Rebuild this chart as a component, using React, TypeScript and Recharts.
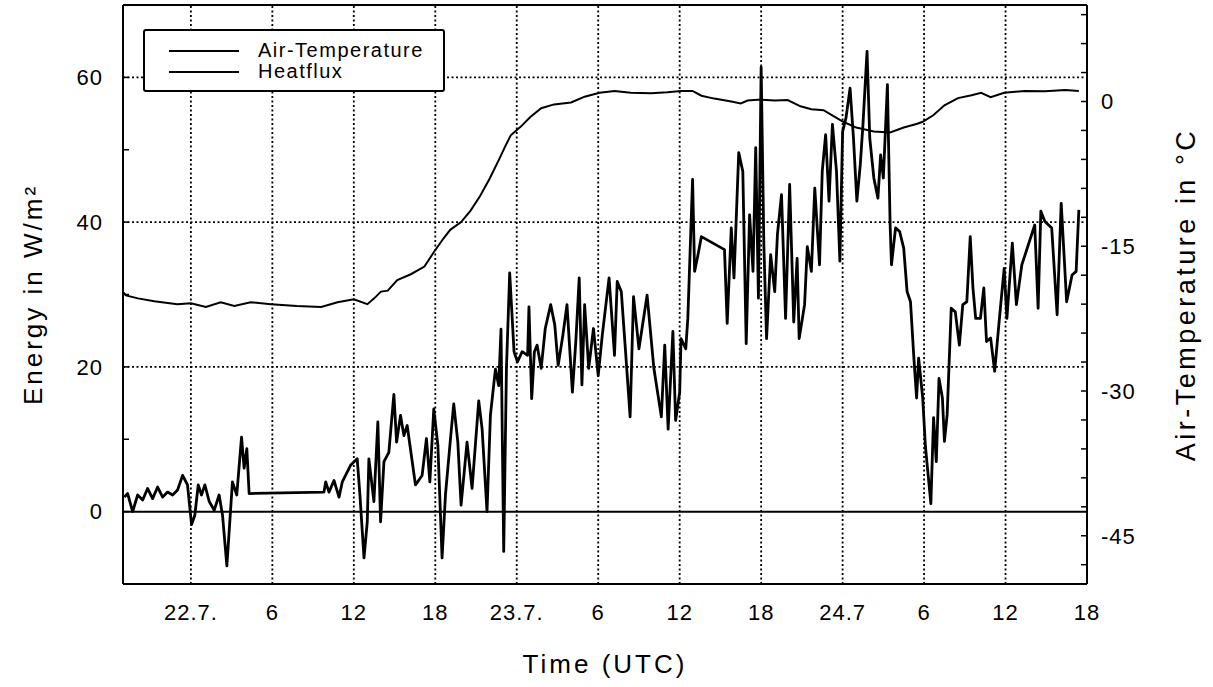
import { LineChart, Line, XAxis, YAxis, ReferenceLine } from 'recharts'

const FONT = '"Liberation Sans", Arial, Helvetica, sans-serif'

// hours since 22.7. 00 UTC
const hourTicks = [0, 6, 12, 18, 24, 30, 36, 42, 48, 54, 60, 66]
const hourLabels = ['22.7.', '6', '12', '18', '23.7.', '6', '12', '18', '24.7', '6', '12', '18']
const gridHours = [0, 6, 12, 18, 24, 30, 36, 42, 48, 54, 60]

const energyTicks = [-10, 0, 10, 20, 30, 40, 50, 60, 70]
const energyLabels = [0, 20, 40, 60]
const tempTicks = [-48, -45, -42, -39, -36, -33, -30, -27, -24, -21, -18, -15, -12, -9, -6, -3, 0, 3, 6, 9]
const tempLabels = [-45, -30, -15, 0]

// Heatflux (W/m2)
const heatHours = [
  -4.9, -4.66, -4.29, -3.92, -3.55, -3.19, -2.82, -2.45, -2.08, -1.72, -1.35, -0.98, -0.61, -0.25,
  0.05, 0.29, 0.54, 0.78, 1.03, 1.35, 1.72, 2.08, 2.33, 2.65, 3.06, 3.38, 3.73, 3.92, 4.12, 4.29,
  9.8, 9.93, 10.17, 10.54, 10.91, 11.15, 11.76, 12.25, 12.45, 12.75, 12.99, 13.11, 13.48, 13.77,
  13.97, 14.22, 14.58, 14.95, 15.15, 15.44, 15.69, 15.93, 16.54, 17.03, 17.35, 17.6, 17.89, 18.19,
  18.5, 18.75, 19.12, 19.36, 19.66, 19.9, 20.34, 20.71, 21.2, 21.45, 21.81, 22.06, 22.43, 22.67,
  22.84, 23.04, 23.24, 23.48, 23.8, 24.05, 24.4, 24.8, 24.9, 25.1, 25.3, 25.5, 25.8, 26.1, 26.5,
  26.8, 27.05, 27.4, 27.7, 28.1, 28.35, 28.6, 28.8, 29.0, 29.3, 29.65, 30.0, 30.3, 30.8, 31.2,
  31.4, 31.7, 32.0, 32.35, 32.6, 33.0, 33.6, 34.1, 34.65, 34.9, 35.15, 35.5, 35.7, 36.0, 36.1,
  36.45, 36.6, 36.95, 37.1, 37.3, 37.6, 39.3, 39.5, 39.8, 40.0, 40.35, 40.65, 40.9, 41.15, 41.4,
  41.6, 41.8, 42.0, 42.2, 42.4, 42.7, 43.0, 43.2, 43.5, 43.8, 44.1, 44.4, 44.65, 44.8, 45.2, 45.4,
  45.7, 45.95, 46.3, 46.5, 46.75, 47.0, 47.25, 47.55, 47.8, 48.0, 48.25, 48.55, 48.8, 49.05, 49.3,
  49.5, 49.8, 50.0, 50.3, 50.6, 50.8, 51.0, 51.3, 51.5, 51.6, 51.9, 52.2, 52.5, 52.75, 53.0, 53.25,
  53.45, 53.6, 53.9, 54.1, 54.5, 54.7, 54.9, 55.1, 55.35, 55.5, 55.7, 56.0, 56.3, 56.6, 56.85,
  57.15, 57.4, 57.6, 57.8, 58.15, 58.4, 58.6, 58.9, 59.2, 59.55, 59.9, 60.1, 60.5, 60.8, 61.2,
  62.15, 62.4, 62.6, 62.9, 63.4, 63.8, 64.1, 64.5, 64.9, 65.2, 65.4,
]
const heatValues = [
  2.0, 2.5, 0, 2.3, 1.6, 3.2, 1.8, 3.4, 2.0, 2.7, 2.3, 3.0, 5.0, 3.7,
  -1.8, -0.5, 3.7, 2.3, 3.7, 1.4, 0.2, 2.3, -0.5, -7.5, 4.1, 2.3, 10.3, 6.0, 8.7, 2.5,
  2.7, 4.1, 2.7, 4.3, 2.0, 4.1, 6.4, 7.3, 2.3, -6.4, -1.4, 7.3, 1.4, 12.4,
  -1.4, 6.9, 8.2, 16.2, 9.6, 13.3, 10.5, 11.9, 3.7, 5.0, 10.1, 4.1, 14.2, 9.2,
  -6.4, 2.3, 10.1, 14.9, 9.6, 0.9, 9.6, 3.2, 15.3, 11.4, 0, 13.3, 19.7, 17.4,
  25.2, -5.5, 19.7, 33.0, 22.1, 20.7, 22.1, 21.6, 28.3, 15.6, 22.1, 23.0, 19.8, 25.3, 28.6,
  25.8, 20.2, 24.4, 28.6, 16.5, 23.5, 32.3, 17.5, 28.6, 19.8, 25.3, 18.8, 24.4, 32.3, 21.6,
  31.8, 30.4, 22.5, 13.1, 29.7, 22.5, 29.9, 19.8, 13.1, 23.0, 11.4, 24.9, 12.6, 16.5, 23.9,
  22.5, 26.7, 45.9, 33.2, 35.0, 38.0, 36.2, 26.0, 39.2, 32.3, 49.6, 47.0, 23.2, 41.0, 33.2,
  50.3, 29.5, 61.4, 36.9, 23.9, 35.5, 30.4, 38.3, 43.8, 26.7, 45.2, 26.2, 35.0, 23.9, 28.6, 36.6,
  33.2, 44.7, 34.1, 47.0, 52.1, 42.9, 53.5, 47.0, 34.6, 52.5, 54.4, 58.5, 51.6, 42.9, 47.9,
  53.5, 63.6, 51.6, 46.1, 43.3, 49.3, 46.1, 59.0, 39.6, 34.1, 39.2, 38.7, 36.4, 30.4, 29.0, 21.2,
  15.7, 21.2, 15.7, 9.0, 1.1, 13.0, 6.9, 18.4, 15.7, 9.7, 13.4, 28.1, 27.6, 23.0, 28.6,
  29.0, 38.0, 30.9, 26.7, 26.7, 30.9, 23.5, 24.0, 19.4, 26.7, 33.6, 26.7, 37.1, 28.6, 34.1,
  39.6, 28.1, 41.5, 40.1, 39.2, 27.2, 42.6, 29.0, 32.7, 33.2, 41.7,
]

// Air temperature (deg C)
const tempHours = [
  -4.95, -4.78, -3.9, -2.7, -1.0, 0, 1.1, 2.2, 3.2, 4.4, 5.9, 7.8, 9.6, 10.8, 12.0, 13.0, 13.5,
  14.0, 14.5, 15.2, 16.2, 17.2, 17.9, 18.6, 19.1, 19.9, 20.6, 21.3, 22.0, 22.7, 23.2, 23.56,
  24.3, 25.0, 25.8, 26.75, 28.0, 29.0, 30.1, 31.2, 32.4, 33.9, 35.1, 36.1, 36.95, 37.6, 38.55,
  39.8, 40.5, 41.0, 42.0, 43.0, 43.95, 44.9, 45.7, 46.6, 47.3, 48.05, 49.0, 50.3, 51.5, 52.5,
  53.5, 53.9, 54.7, 55.5, 56.5, 57.5, 58.2, 58.9, 59.9, 61.4, 62.9, 64.4, 65.4,
]
const tempValues = [
  -19.8, -20.1, -20.4, -20.7, -21.0, -20.9, -21.3, -20.8, -21.2, -20.8, -21.0, -21.2, -21.3, -20.8,
  -20.5, -21.0, -20.4, -19.7, -19.6, -18.5, -17.9, -17.1, -15.6, -14.2, -13.3, -12.5, -11.3, -9.8,
  -8.0, -6.0, -4.5, -3.5, -2.6, -1.6, -0.7, -0.3, -0.1, 0.5, 0.9, 1.1, 0.9, 0.85, 0.95, 1.1, 1.1,
  0.6, 0.3, 0.0, -0.2, 0.1, 0.2, 0.1, 0.15, -0.5, -0.8, -0.9, -1.5, -2.1, -2.7, -3.1, -3.2, -2.7,
  -2.3, -2.1, -1.4, -0.4, 0.35, 0.65, 0.9, 0.45, 0.9, 1.1, 1.05, 1.2, 1.1,
]

const heatData = heatHours.map((h, i) => ({ h, e: heatValues[i] }))
const tempData = tempHours.map((h, i) => ({ h, t: tempValues[i] }))

const tickStyle = { fill: '#000', fontSize: 22, fontFamily: FONT, letterSpacing: 1 }
const titleStyle = { fill: '#000', fontSize: 26, fontFamily: FONT, letterSpacing: 3, textAnchor: 'middle' as const }
const rightTitleStyle = { ...titleStyle, fontSize: 27, letterSpacing: 3.5 }
const dotted = { stroke: '#000', strokeWidth: 1.8, strokeDasharray: '2 2.5' }

function ChartLegend() {
  const row = (label: string, top: number) => (
    <div style={{ position: 'absolute', left: 0, top, height: 0, width: '100%' }}>
      <div style={{ position: 'absolute', left: 24, top: -1, width: 70, height: 2, background: '#000' }} />
      <div
        style={{
          position: 'absolute',
          left: 113,
          top: -12,
          fontSize: 20,
          lineHeight: '22px',
          letterSpacing: 1.5,
          color: '#000',
          whiteSpace: 'nowrap',
        }}
      >
        {label}
      </div>
    </div>
  )
  return (
    <div
      style={{
        position: 'absolute',
        left: 143,
        top: 29,
        width: 298,
        height: 59,
        border: '2px solid #000',
        borderRadius: 3,
        background: '#fff',
      }}
    >
      {row('Air-Temperature', 20)}
      {row('Heatflux', 41)}
    </div>
  )
}

export default function App() {
  return (
    <div
      style={{
        position: 'absolute',
        left: 0,
        top: 0,
        width: 1213,
        height: 687,
        background: '#fff',
        fontFamily: FONT,
      }}
    >
      <LineChart width={1213} height={687} margin={{ top: 5, right: 0, bottom: 0, left: 0 }}>
        <XAxis
          type="number"
          dataKey="h"
          domain={[-5, 66]}
          ticks={hourTicks}
          interval={0}
          allowDataOverflow
          height={103}
          axisLine={{ stroke: '#000', strokeWidth: 2 }}
          tickLine={false}
          tickSize={0}
          tickMargin={20}
          tick={tickStyle}
          tickFormatter={(v: number) => hourLabels[hourTicks.indexOf(v)] ?? ''}
          label={{ value: 'Time (UTC)', position: 'insideBottom', offset: 14, style: titleStyle }}
        />
        <YAxis
          yAxisId="e"
          type="number"
          domain={[-10, 70]}
          ticks={energyTicks}
          interval={0}
          allowDataOverflow
          width={123}
          axisLine={{ stroke: '#000', strokeWidth: 2 }}
          tickLine={{ stroke: '#000', strokeWidth: 1.5 }}
          tickSize={-6}
          tickMargin={26}
          tick={tickStyle}
          tickFormatter={(v: number) => (energyLabels.includes(v) ? String(v) : '')}
          label={{ value: 'Energy in W/m²', angle: -90, position: 'insideLeft', offset: 33, style: titleStyle }}
        />
        <YAxis
          yAxisId="t"
          orientation="right"
          type="number"
          domain={[-50, 10]}
          ticks={tempTicks}
          interval={0}
          allowDataOverflow
          width={126}
          axisLine={{ stroke: '#000', strokeWidth: 2 }}
          tickLine={{ stroke: '#000', strokeWidth: 1.5 }}
          tickSize={-6}
          tickMargin={20}
          tick={tickStyle}
          tickFormatter={(v: number) => (tempLabels.includes(v) ? String(v) : '')}
          label={{ value: 'Air-Temperature in °C', angle: -90, position: 'insideRight', offset: 28, style: rightTitleStyle }}
        />

        {gridHours.map((h) => (
          <ReferenceLine key={`gx-${h}`} x={h} yAxisId="e" {...dotted} />
        ))}
        {[20, 40, 60].map((v) => (
          <ReferenceLine key={`gy-${v}`} y={v} yAxisId="e" {...dotted} />
        ))}
        <ReferenceLine y={0} yAxisId="e" stroke="#000" strokeWidth={2} />
        <ReferenceLine y={70} yAxisId="e" stroke="#000" strokeWidth={2} />

        <Line
          data={tempData}
          dataKey="t"
          yAxisId="t"
          type="linear"
          stroke="#000"
          strokeWidth={2}
          dot={false}
          activeDot={false}
          isAnimationActive={false}
        />
        <Line
          data={heatData}
          dataKey="e"
          yAxisId="e"
          type="linear"
          stroke="#000"
          strokeWidth={2.8}
          strokeLinejoin="round"
          dot={false}
          activeDot={false}
          isAnimationActive={false}
        />
      </LineChart>
      <ChartLegend />
    </div>
  )
}
